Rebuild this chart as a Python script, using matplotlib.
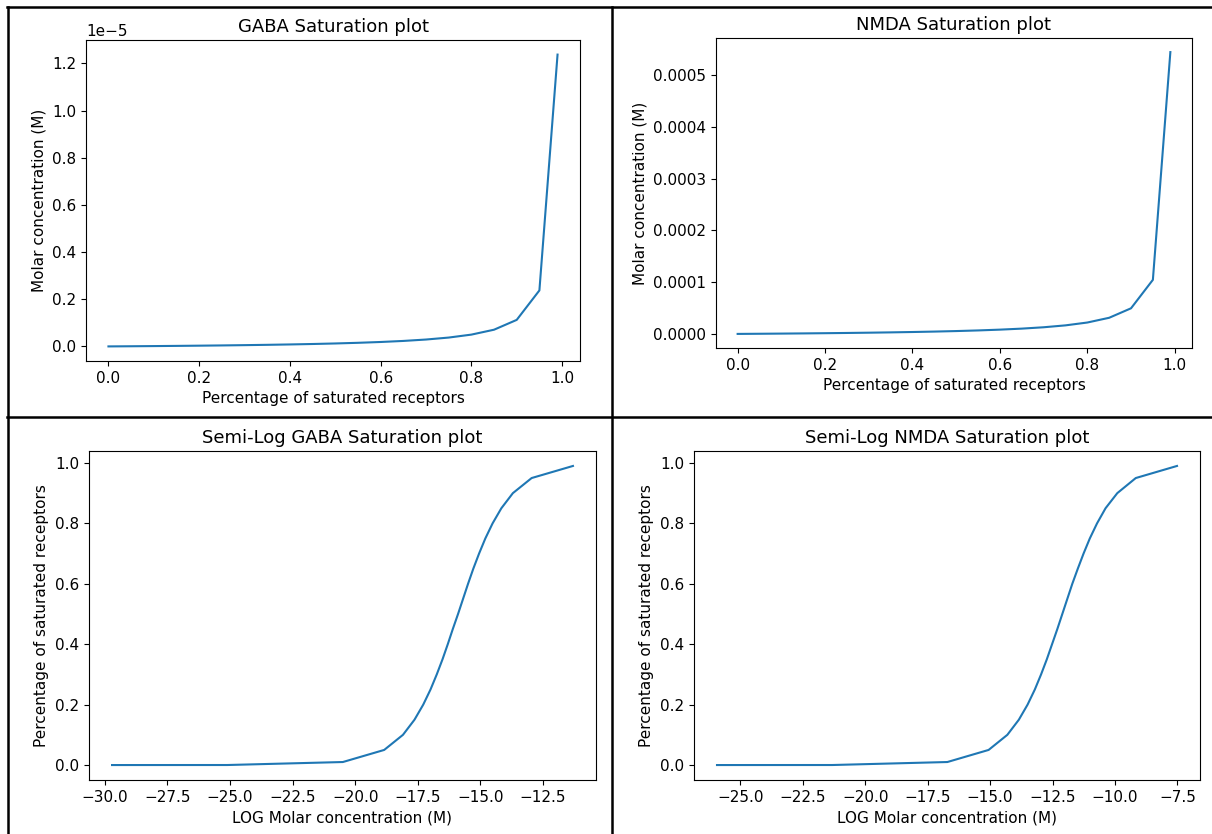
import matplotlib
matplotlib.use("Agg")
import matplotlib.pyplot as plt
from matplotlib.lines import Line2D

# fraction of saturated receptors (shared by all four panels)
saturation = [0.000001, 0.0001, 0.01, 0.05, 0.10, 0.15, 0.20, 0.25, 0.30, 0.35,
              0.40, 0.45, 0.50, 0.55, 0.60, 0.65, 0.70, 0.75, 0.80, 0.85,
              0.90, 0.95, 0.99]

# molar concentrations
gaba_conc = [1.25e-13, 1.25e-11, 1.263e-9, 6.58e-9, 1.389e-8, 2.206e-8, 3.125e-8,
             4.167e-8, 5.357e-8, 6.731e-8, 8.333e-8, 1.023e-7, 1.25e-7, 1.528e-7,
             1.875e-7, 2.321e-7, 2.917e-7, 3.75e-7, 5.0e-7, 7.083e-7, 1.125e-6,
             2.375e-6, 1.2375e-5]
nmda_conc = [5.5e-12, 5.5e-10, 5.556e-8, 2.895e-7, 6.111e-7, 9.706e-7, 1.375e-6,
             1.833e-6, 2.357e-6, 2.962e-6, 3.667e-6, 4.5e-6, 5.5e-6, 6.722e-6,
             8.25e-6, 1.0214e-5, 1.2833e-5, 1.65e-5, 2.2e-5, 3.1167e-5, 4.95e-5,
             1.045e-4, 5.445e-4]

# natural log of the concentrations
gaba_log = [-29.71, -25.11, -20.49, -18.84, -18.09, -17.63, -17.28, -16.99,
            -16.74, -16.51, -16.30, -16.10, -15.89, -15.69, -15.49, -15.28,
            -15.05, -14.80, -14.51, -14.16, -13.70, -12.95, -11.30]
nmda_log = [-25.93, -21.32, -16.71, -15.06, -14.31, -13.85, -13.50, -13.21,
            -12.96, -12.73, -12.52, -12.31, -12.11, -11.91, -11.71, -11.49,
            -11.26, -11.01, -10.72, -10.38, -9.91, -9.17, -7.52]

W, H = 1212, 834


def box(left, top, right, bottom):
    """Pixel box -> figure fraction rect."""
    return [left / W, 1 - bottom / H, (right - left) / W, (bottom - top) / H]


def frac_line(fig, x0, y0, x1, y1):
    fig.add_artist(Line2D([x0 / W, x1 / W], [1 - y0 / H, 1 - y1 / H],
                          transform=fig.transFigure, color="black", lw=1.8))


plt.rcParams["font.family"] = "DejaVu Sans"
plt.rcParams["xtick.labelsize"] = 11
plt.rcParams["ytick.labelsize"] = 11
plt.rcParams["axes.titlesize"] = 13
plt.rcParams["axes.labelsize"] = 11
plt.rcParams["axes.formatter.offset_threshold"] = 4

fig = plt.figure(figsize=(W / 100, H / 100), dpi=100)

ax1 = fig.add_axes(box(86, 40, 580, 361))
ax1.plot(saturation, gaba_conc)
ax1.set_title("GABA Saturation plot")
ax1.set_xlabel("Percentage of saturated receptors")
ax1.set_ylabel("Molar concentration (M)")

ax2 = fig.add_axes(box(716, 38, 1192, 348))
ax2.plot(saturation, nmda_conc)
ax2.set_title("NMDA Saturation plot")
ax2.set_xlabel("Percentage of saturated receptors")
ax2.set_ylabel("Molar concentration (M)")

ax3 = fig.add_axes(box(89, 451, 596, 780))
ax3.plot(gaba_log, saturation)
ax3.set_title("Semi-Log GABA Saturation plot")
ax3.set_xlabel("LOG Molar concentration (M)")
ax3.set_ylabel("Percentage of saturated receptors")

ax4 = fig.add_axes(box(694, 451, 1200, 780))
ax4.plot(nmda_log, saturation)
ax4.set_title("Semi-Log NMDA Saturation plot")
ax4.set_xlabel("LOG Molar concentration (M)")
ax4.set_ylabel("Percentage of saturated receptors")

# table-like frame around the four panels
frac_line(fig, 7, 7, W, 7)
frac_line(fig, 7.5, 7, 7.5, H)
frac_line(fig, 612, 7, 612, H)
frac_line(fig, 7, 417, W, 417)

fig.savefig("out.png", dpi=100)
